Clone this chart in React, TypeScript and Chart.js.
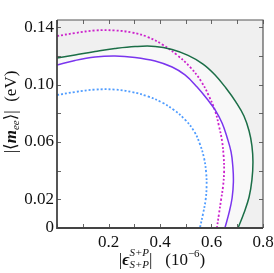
import React, { useEffect, useRef } from "react";
import { Chart, registerables } from "chart.js";

Chart.register(...registerables);

// Curve data (x in 10^-6, y in eV)
const greenX = [0, 0.07, 0.148, 0.225, 0.303, 0.381, 0.447, 0.509, 0.567, 0.614, 0.656, 0.695, 0.726, 0.746, 0.757, 0.761, 0.757, 0.746, 0.726, 0.703];
const greenY = [0.1185, 0.1206, 0.123, 0.1251, 0.1265, 0.1266, 0.1244, 0.1203, 0.1143, 0.1067, 0.0976, 0.0878, 0.0781, 0.0676, 0.0572, 0.046, 0.0335, 0.0216, 0.0105, 0];

const purpleX = [0, 0.07, 0.148, 0.225, 0.303, 0.381, 0.447, 0.497, 0.544, 0.583, 0.614, 0.641, 0.66, 0.676, 0.683, 0.685, 0.68, 0.668, 0.652];
const purpleY = [0.1136, 0.1168, 0.1192, 0.1199, 0.1189, 0.1164, 0.1122, 0.1067, 0.0983, 0.0899, 0.0823, 0.0732, 0.0634, 0.053, 0.0425, 0.0321, 0.0209, 0.0105, 0];

const magentaX = [0, 0.07, 0.148, 0.225, 0.291, 0.353, 0.412, 0.466, 0.517, 0.559, 0.59, 0.614, 0.629, 0.641, 0.647, 0.649, 0.645, 0.637, 0.629, 0.621];
const magentaY = [0.1338, 0.1359, 0.1377, 0.1377, 0.1363, 0.1331, 0.1276, 0.1206, 0.1122, 0.1025, 0.092, 0.0816, 0.0711, 0.0606, 0.0502, 0.0397, 0.0293, 0.0195, 0.0098, 0];

const blueX = [0, 0.07, 0.148, 0.225, 0.291, 0.353, 0.408, 0.454, 0.497, 0.532, 0.555, 0.571, 0.579, 0.581, 0.577, 0.567, 0.555];
const blueY = [0.0927, 0.0948, 0.0965, 0.0965, 0.0948, 0.0917, 0.0875, 0.0823, 0.0756, 0.0676, 0.0585, 0.0488, 0.039, 0.0293, 0.0195, 0.0098, 0];

const yLabelValues = [0, 0.02, 0.06, 0.1, 0.14];
const xLabelValues = [0.2, 0.4, 0.6, 0.8];

const SERIF = "'Liberation Serif', 'DejaVu Serif', serif";

function pts(xs: number[], ys: number[]) {
  return xs.map((x, i) => ({ x, y: ys[i] }));
}

const regionPlugin = {
  id: "regions",
  beforeDatasetsDraw(chart: any) {
    const { ctx, chartArea: a } = chart;
    const xs = chart.scales.x;
    const ys = chart.scales.y;
    ctx.save();
    ctx.fillStyle = "#f0f0f0";
    ctx.fillRect(a.left, a.top, a.right - a.left, a.bottom - a.top);
    const fillInside = (idx: number, color: string) => {
      const meta = chart.getDatasetMeta(idx);
      const line: any = meta.dataset;
      ctx.beginPath();
      let ok = false;
      if (line && typeof line.path === "function") {
        try {
          if (typeof line.updateControlPoints === "function") line.updateControlPoints(a, "x");
          line.path(ctx);
          ok = true;
        } catch (e) {
          ok = false;
        }
      }
      if (!ok) {
        ctx.beginPath();
        meta.data.forEach((p: any, i: number) => (i ? ctx.lineTo(p.x, p.y) : ctx.moveTo(p.x, p.y)));
      }
      ctx.lineTo(xs.getPixelForValue(0), ys.getPixelForValue(0));
      ctx.closePath();
      ctx.fillStyle = color;
      ctx.fill();
    };
    fillInside(0, "#f8f8f8");
    fillInside(1, "#ffffff");
    ctx.restore();
  },
};

const framePlugin = {
  id: "frame",
  afterDatasetsDraw(chart: any) {
    const { ctx, chartArea: a } = chart;
    const xs = chart.scales.x;
    const ys = chart.scales.y;
    ctx.save();
    ctx.strokeStyle = "#666";
    ctx.lineWidth = 1;
    const tl = 4;
    xs.ticks.forEach((t: any) => {
      const px = Math.round(xs.getPixelForValue(t.value)) + 0.5;
      ctx.beginPath();
      ctx.moveTo(px, a.bottom);
      ctx.lineTo(px, a.bottom - tl);
      ctx.moveTo(px, a.top);
      ctx.lineTo(px, a.top + tl);
      ctx.stroke();
    });
    ys.ticks.forEach((t: any) => {
      const py = Math.round(ys.getPixelForValue(t.value)) + 0.5;
      ctx.beginPath();
      ctx.moveTo(a.left, py);
      ctx.lineTo(a.left + tl, py);
      ctx.moveTo(a.right, py);
      ctx.lineTo(a.right - tl, py);
      ctx.stroke();
    });
    ctx.strokeStyle = "#555";
    ctx.lineWidth = 1.2;
    ctx.beginPath();
    ctx.moveTo(a.left, a.top);
    ctx.lineTo(a.right, a.top);
    ctx.lineTo(a.right, a.bottom);
    ctx.stroke();
    ctx.strokeStyle = "#444";
    ctx.lineWidth = 1.8;
    ctx.beginPath();
    ctx.moveTo(a.left, a.top);
    ctx.lineTo(a.left, a.bottom);
    ctx.lineTo(a.right, a.bottom);
    ctx.stroke();
    ctx.restore();
  },
};

type Seg = { t: string; font: string; dy?: number; stack?: string };

function drawRich(ctx: CanvasRenderingContext2D, segs: Seg[], cx: number, baseline: number) {
  let total = 0;
  const widths = segs.map((s) => {
    ctx.font = s.font;
    let w = ctx.measureText(s.t).width;
    if (s.stack) w = Math.max(w, ctx.measureText(s.stack).width);
    total += w;
    return w;
  });
  let x = cx - total / 2;
  segs.forEach((s, i) => {
    ctx.font = s.font;
    ctx.fillText(s.t, x, baseline + (s.dy || 0));
    if (s.stack) ctx.fillText(s.stack, x, baseline + 3);
    x += widths[i];
  });
}

const titlePlugin = {
  id: "richTitles",
  afterDraw(chart: any) {
    const { ctx } = chart;
    ctx.save();
    ctx.fillStyle = "#111";
    ctx.textBaseline = "alphabetic";
    ctx.textAlign = "left";
    // x-axis title
    drawRich(
      ctx,
      [
        { t: "|", font: `17px ${SERIF}` },
        { t: "ϵ", font: `italic bold 17px ${SERIF}` },
        { t: "S+P", font: `italic 11px ${SERIF}`, dy: -9, stack: "S+P" },
        { t: "|", font: `17px ${SERIF}` },
        { t: "   (10", font: `17px ${SERIF}` },
        { t: "−6", font: `11px ${SERIF}`, dy: -8 },
        { t: ")", font: `17px ${SERIF}` },
      ],
      162,
      265
    );
    // y-axis title
    ctx.translate(16, 112);
    ctx.rotate(-Math.PI / 2);
    drawRich(
      ctx,
      [
        { t: "|⟨", font: `17px ${SERIF}` },
        { t: "m", font: `italic bold 17px ${SERIF}` },
        { t: "ee", font: `italic 11px ${SERIF}`, dy: 3 },
        { t: "⟩|", font: `17px ${SERIF}` },
        { t: "  (eV)", font: `17px ${SERIF}` },
      ],
      0,
      0
    );
    ctx.restore();
  },
};

export default function App() {
  const ref = useRef<HTMLCanvasElement | null>(null);
  useEffect(() => {
    if (!ref.current) return;
    const lineBase = { showLine: true, pointRadius: 0, tension: 0.4, fill: false, borderCapStyle: "butt" as const };
    const chart = new Chart(ref.current, {
      type: "scatter",
      data: {
        datasets: [
          { ...lineBase, label: "green", data: pts(greenX, greenY), borderColor: "#1b6e47", borderWidth: 1.5 },
          { ...lineBase, label: "purple", data: pts(purpleX, purpleY), borderColor: "#7a35ee", borderWidth: 1.5 },
          { ...lineBase, label: "magenta", data: pts(magentaX, magentaY), borderColor: "#cc22cc", borderWidth: 1.8, borderDash: [2, 2] },
          { ...lineBase, label: "blue", data: pts(blueX, blueY), borderColor: "#4f9cff", borderWidth: 1.8, borderDash: [2, 2] },
        ],
      },
      options: {
        animation: false,
        responsive: false,
        maintainAspectRatio: false,
        layout: { padding: { top: 20, right: 11, left: 0, bottom: 0 } },
        plugins: { legend: { display: false }, tooltip: { enabled: false } },
        scales: {
          x: {
            type: "linear",
            min: 0,
            max: 0.8,
            grid: { display: false, drawTicks: false },
            border: { display: false },
            ticks: {
              stepSize: 0.1,
              includeBounds: false,
              autoSkip: false,
              maxRotation: 0,
              padding: 4,
              color: "#111",
              font: { family: SERIF, size: 17 },
              callback: (v: any) => {
                const r = Math.round(Number(v) * 10) / 10;
                return xLabelValues.some((l) => Math.abs(l - r) < 1e-9) ? r.toFixed(1) : "";
              },
            },
            afterFit: (s: any) => {
              s.height = 45;
              s.paddingLeft = 0;
              s.paddingRight = 0;
            },
          },
          y: {
            type: "linear",
            min: 0,
            max: 0.145,
            grid: { display: false, drawTicks: false },
            border: { display: false },
            ticks: {
              stepSize: 0.02,
              includeBounds: false,
              autoSkip: false,
              padding: 3,
              color: "#111",
              font: { family: SERIF, size: 17 },
              callback: (v: any) => {
                const r = Math.round(Number(v) * 100) / 100;
                if (!yLabelValues.some((l) => Math.abs(l - r) < 1e-9)) return "";
                return r === 0 ? "0" : r.toFixed(2);
              },
            },
            afterFit: (s: any) => {
              s.width = 57;
              s.paddingTop = 0;
              s.paddingBottom = 0;
            },
          },
        },
      },
      plugins: [regionPlugin, framePlugin, titlePlugin],
    });
    return () => chart.destroy();
  }, []);
  return (
    <div style={{ position: "fixed", left: 0, top: 0, width: 274, height: 273, background: "#fff" }}>
      <canvas ref={ref} width={274} height={273} style={{ width: 274, height: 273, display: "block" }} />
    </div>
  );
}
